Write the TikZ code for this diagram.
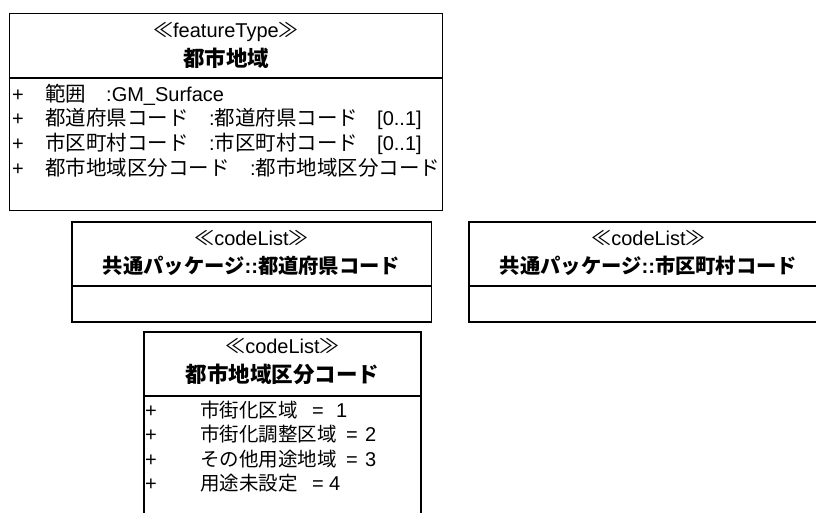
\documentclass[tikz,border=0pt]{standalone}
\usepackage{fontspec}
\setmainfont{Liberation Sans}
\newfontfamily\jp{Noto Sans CJK JP}
\tikzset{
  boxline/.style={draw=black, line width=1.3pt},
  txt/.style={inner sep=0pt, anchor=base west, font=\fontsize{20}{23}\selectfont},
  stereo/.style={inner sep=0pt, anchor=base, font=\fontsize{20}{23}\selectfont},
  ttl/.style={inner sep=0pt, anchor=base, font=\fontsize{21.5}{24}\selectfont\bfseries},
  ttlb/.style={inner sep=0pt, anchor=base, font=\fontsize{20.3}{24}\selectfont\bfseries},
}
\newcommand{\J}[1]{{\jp\fontsize{20.5}{23}\selectfont #1}}
\newcommand{\Jb}[1]{{\jp\fontsize{19.5}{23}\selectfont #1}}
\begin{document}
\begin{tikzpicture}[x=1pt,y=-1pt]
\useasboundingbox (0,0) rectangle (816,513);
\clip (0,0) rectangle (816,513);
% Box 1: featureType
\draw[boxline] (9.5,13.5) rectangle (442.5,210.5);
\draw[boxline] (9.5,78) -- (442.5,78);
\node[stereo] (s1) at (226,38) {{\jp ≪}featureType{\jp ≫}};
\node[ttl] (t1) at (226,67) {\jp 都市地域};
\node[txt] (p11) at (12,102) {+};
\node[txt] (n11) at (45,102) {\J{範囲}};
\node[txt] (c11) at (106,102) {:GM\_Surface};
\node[txt] (p12) at (12,126) {+};
\node[txt] (n12) at (45,126) {\J{都道府県コード}};
\node[txt] (c12) at (209,126) {:\J{都道府県コード}};
\node[txt] (m12) at (377,126) {[0..1]};
\node[txt] (p13) at (12,151) {+};
\node[txt] (n13) at (45,151) {\J{市区町村コード}};
\node[txt] (c13) at (209,151) {:\J{市区町村コード}};
\node[txt] (m13) at (377,151) {[0..1]};
\node[txt] (p14) at (12,175.5) {+};
\node[txt] (n14) at (45,175.5) {\J{都市地域区分コード}};
\node[txt] (c14) at (250,175.5) {:\J{都市地域区分コード}};
% Box 2
\draw[boxline] (72,222) rectangle (431.5,322);
\draw[boxline] (72,286) -- (431.5,286);
\node[stereo] (s2) at (251.5,245) {{\jp ≪}codeList{\jp ≫}};
\node[ttlb] (t2) at (251.5,273) {{\jp 共通パッケージ}::{\jp 都道府県コード}};
% Box 3
\draw[boxline] (469,222) rectangle (828,322);
\draw[boxline] (469,286) -- (828,286);
\node[stereo] (s3) at (648.5,245) {{\jp ≪}codeList{\jp ≫}};
\node[ttlb] (t3) at (648.5,273) {{\jp 共通パッケージ}::{\jp 市区町村コード}};
% Box 4
\draw[boxline] (144,332) rectangle (421,540);
\draw[boxline] (144,396) -- (421,396);
\node[stereo] (s4) at (282.5,353) {{\jp ≪}codeList{\jp ≫}};
\node[ttl] (t4) at (282.5,382) {\jp 都市地域区分コード};
\node[txt] (p41) at (145,417) {+};
\node[txt] (n41) at (200,417) {\Jb{市街化区域}};
\node[txt, xshift=14pt] (e41) at (n41.base east) {=};
\node[txt, xshift=12pt] (v41) at (e41.base east) {1};
\node[txt] (p42) at (145,441.5) {+};
\node[txt] (n42) at (200,441.5) {\Jb{市街化調整区域}};
\node[txt, xshift=9pt] (e42) at (n42.base east) {=};
\node[txt, xshift=7pt] (v42) at (e42.base east) {2};
\node[txt] (p43) at (145,466) {+};
\node[txt] (n43) at (200,466) {\Jb{その他用途地域}};
\node[txt, xshift=9pt] (e43) at (n43.base east) {=};
\node[txt, xshift=7pt] (v43) at (e43.base east) {3};
\node[txt] (p44) at (145,490.5) {+};
\node[txt] (n44) at (200,490.5) {\Jb{用途未設定}};
\node[txt, xshift=14pt] (e44) at (n44.base east) {=};
\node[txt, xshift=5pt] (v44) at (e44.base east) {4};
\end{tikzpicture}
\end{document}
